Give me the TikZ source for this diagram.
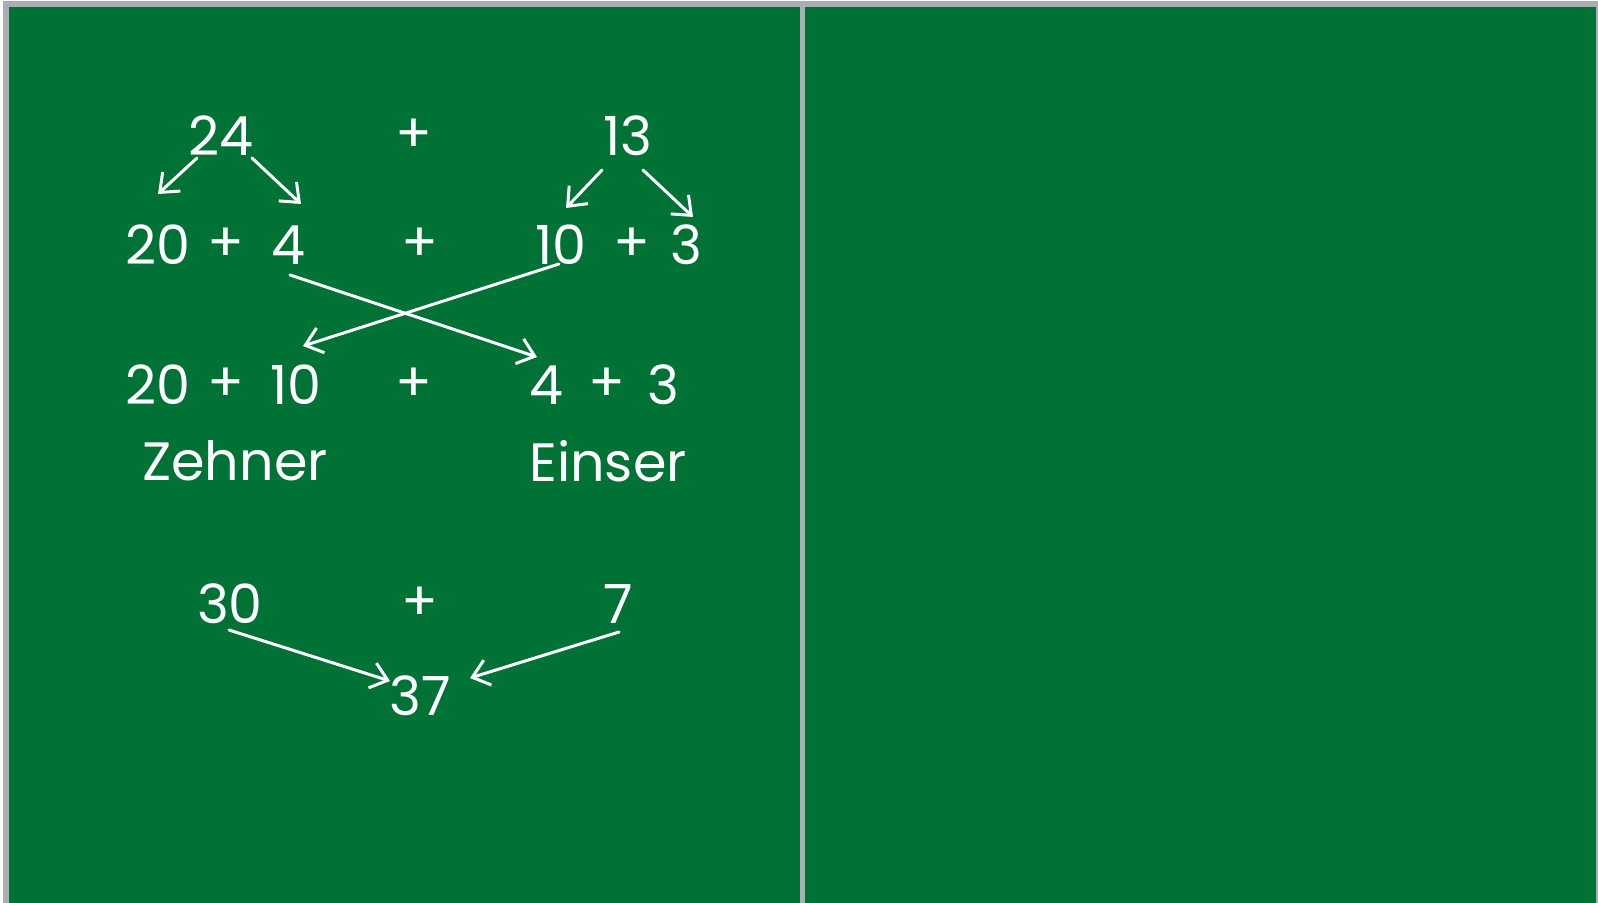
\documentclass[tikz,border=0pt]{standalone}
\usepackage{fontspec}
\setmainfont{Poppins}
\usetikzlibrary{positioning,arrows.meta,calc}
\definecolor{boardgreen}{RGB}{0,114,54}
\definecolor{framegray}{RGB}{170,173,177}
\colorlet{chalk}{white}

\begin{document}
\begin{tikzpicture}[x=0.5pt,y=-0.5pt,every node/.style={font=\fontsize{27}{32}\selectfont,text=chalk,inner sep=0pt},chalkline/.style={draw=chalk,line width=1.5pt,line cap=round,-{Straight Barb[length=8pt,width=13pt,line width=1.5pt]}}]
    \useasboundingbox (0,0) rectangle (1598,903);
    % board
    \fill[white] (0,0) rectangle (1598,903);
    \fill[framegray] (3,1) rectangle (1598,903);
    \fill[boardgreen] (9,7) rectangle (800,903);
    \fill[boardgreen] (805,7) rectangle (1596,903);
    % first row
    \node (t24) at (221,136) {24};
    \node (tplus) at (414,136) {+};
    \node (t13) at (628,136) {13};
    % split
    \node (f20) at (158,245) {20};
    \node (fp1) at (226,245) {+};
    \node (f4) at (288,245) {4};
    \node (fplus) at (420,245) {+};
    \node (f10) at (561,245) {10};
    \node (fp2) at (632,245) {+};
    \node (f3) at (686,245) {3};
    % regrouped
    \node (g20) at (158,385) {20};
    \node (gp1) at (226,385) {+};
    \node (g10) at (296,385) {10};
    \node (gplus) at (414,385) {+};
    \node (g4) at (546,385) {4};
    \node (gp2) at (607,385) {+};
    \node (g3) at (663,385) {3};
    \node (zehner) at (235,461) {Zehner};
    \node (einser) at (608,461) {Einser};
    % sums
    \node (h30) at (230,604) {30};
    \node (hplus) at (420,604) {+};
    \node (h7) at (618,604) {7};
    \node (r37) at (420,696) {37};
    % free arrow tips
    \coordinate (d24l) at (158,194);
    \coordinate (d24r) at (301,204);
    \coordinate (d13l) at (566,208);
    \coordinate (d13r) at (693,217);
    \draw[chalkline] ($(t24)+(-24,22)$) -- (d24l);
    \draw[chalkline] ($(t24)+(31,22)$) -- (d24r);
    \draw[chalkline] ($(t13)+(-26,34)$) -- (d13l);
    \draw[chalkline] ($(t13)+(15,34)$) -- (d13r);
    \draw[chalkline] ($(f4)+(2,30)$) -- ($(g4)+(-9,-28)$);
    \draw[chalkline] ($(f10)+(-2,19)$) -- ($(g10)+(7,-39)$);
    \draw[chalkline] ($(h30)+(-1,26)$) -- ($(r37)+(-30,-15)$);
    \draw[chalkline] ($(h7)+(1,28)$) -- ($(r37)+(50,-18)$);
  \end{tikzpicture}
\end{document}
